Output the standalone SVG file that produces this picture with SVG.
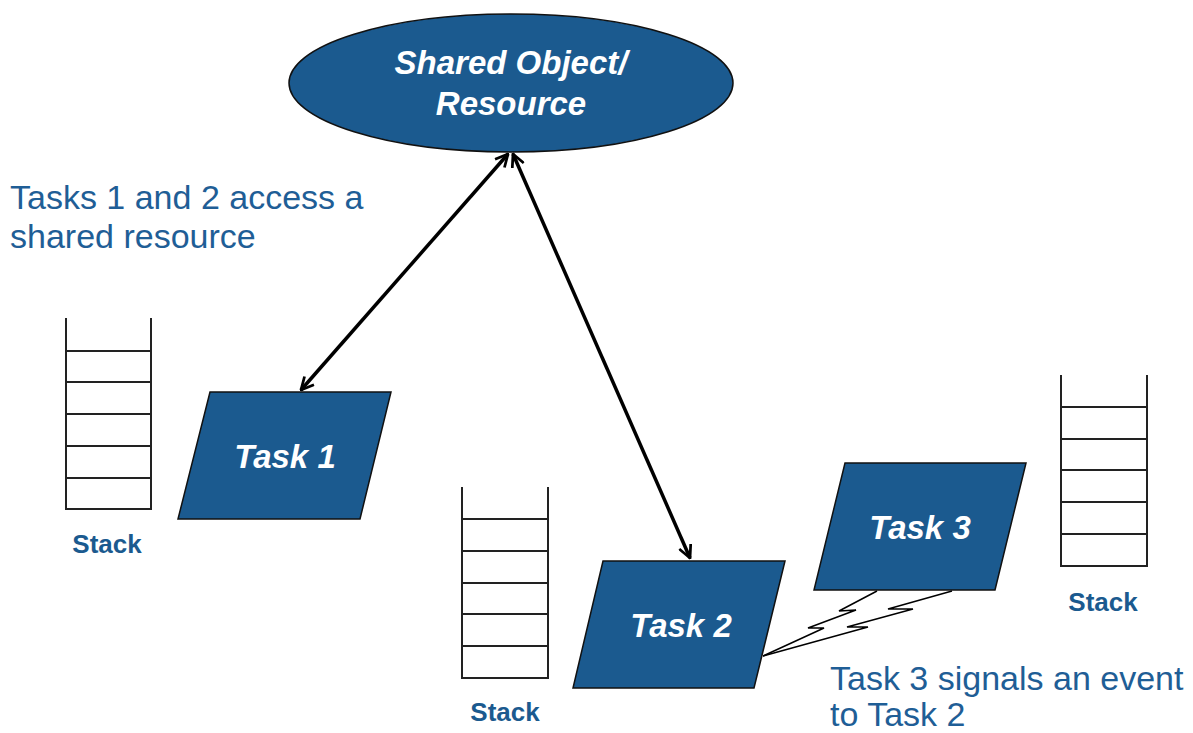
<svg xmlns="http://www.w3.org/2000/svg" width="1193" height="733" viewBox="0 0 1193 733">
<style>
.shape{fill:#1b5a8f;stroke:#111;stroke-width:1.5}
.ttl{font-family:"Liberation Sans",Arial,sans-serif;font-weight:bold;font-style:italic;font-size:33px;fill:#fff;text-anchor:middle}
.stk{fill:none;stroke:#222;stroke-width:2}
.lbl{font-family:"Liberation Sans",Arial,sans-serif;font-weight:bold;font-size:26px;fill:#1b5a8f;text-anchor:middle}
.note{font-family:"Liberation Sans",Arial,sans-serif;font-size:34px;fill:#1f5e96}
.conn{fill:none;stroke:#000;stroke-width:3.5}
.bolt{fill:none;stroke:#000;stroke-width:1.5;stroke-linejoin:miter}
</style>
<defs>
<marker id="ah" viewBox="0 0 12 12" refX="11" refY="6" markerWidth="15" markerHeight="15" markerUnits="userSpaceOnUse" orient="auto-start-reverse">
<path d="M1,1 L11,6 L1,11" fill="none" stroke="#000" stroke-width="2.2"/>
</marker>
</defs>
<rect width="1193" height="733" fill="#fff"/>

<g id="shared-resource">
<ellipse class="shape" cx="511" cy="83" rx="222" ry="69"/>
<text class="ttl" x="511" y="74">Shared Object/</text>
<text class="ttl" x="511" y="115">Resource</text>
</g>

<g id="task1">
<polygon class="shape" points="210,392 391,392 360,519 178,519"/>
<text class="ttl" x="285" y="468">Task 1</text>
</g>

<g id="task2">
<polygon class="shape" points="603,561 785,561 754,688 573,688"/>
<text class="ttl" x="681" y="637">Task 2</text>
</g>

<g id="task3">
<polygon class="shape" points="845,463 1026,463 995,590 814,590"/>
<text class="ttl" x="920" y="539">Task 3</text>
</g>

<g id="stack1">
<path class="stk" d="M66,318 V509 H151 V318 M66,351 H151 M66,382 H151 M66,414 H151 M66,446 H151 M66,478 H151"/>
<text class="lbl" x="107" y="553">Stack</text>
</g>

<g id="stack2">
<path class="stk" d="M462,487 V678 H548 V487 M462,519 H548 M462,551 H548 M462,583 H548 M462,614 H548 M462,646 H548"/>
<text class="lbl" x="505" y="721">Stack</text>
</g>

<g id="stack3">
<path class="stk" d="M1061,375 V566 H1147 V375 M1061,407 H1147 M1061,439 H1147 M1061,470 H1147 M1061,502 H1147 M1061,534 H1147"/>
<text class="lbl" x="1103" y="611">Stack</text>
</g>

<g id="connectors">
<line class="conn" x1="508" y1="154" x2="301" y2="390" marker-start="url(#ah)" marker-end="url(#ah)"/>
<line class="conn" x1="513" y1="154" x2="690" y2="558" marker-start="url(#ah)" marker-end="url(#ah)"/>
<polyline class="bolt" points="877,591 839,611 856,610 808,628 824,628 763,656"/>
<polyline class="bolt" points="952,591 888,609 913,609 847,627 868,627 763,656"/>
</g>

<g id="notes">
<text class="note" x="10" y="209">Tasks 1 and 2 access a</text>
<text class="note" x="10" y="248">shared resource</text>
<text class="note" x="830" y="690">Task 3 signals an event</text>
<text class="note" x="830" y="726">to Task 2</text>
</g>
</svg>
